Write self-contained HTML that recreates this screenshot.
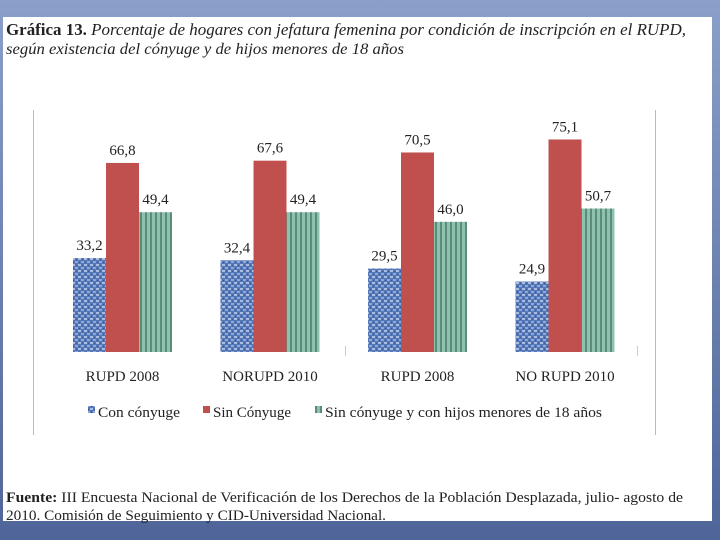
<!DOCTYPE html>
<html><head><meta charset="utf-8"><style>
html,body{margin:0;padding:0;width:720px;height:540px;overflow:hidden;background:#5a70a4;}
svg{display:block}
</style></head><body>
<svg width="720" height="540" xmlns="http://www.w3.org/2000/svg">
<defs>
<linearGradient id="bg" x1="0" y1="0" x2="0" y2="1"><stop offset="0" stop-color="#8a9fc9"/><stop offset="1" stop-color="#4f6599"/></linearGradient>
<pattern id="pBlue" width="6" height="6" patternUnits="userSpaceOnUse">
<rect width="6" height="6" fill="#5577b8"/><rect x="0" y="0" width="3" height="2" fill="#a9bde0"/><rect x="3" y="3" width="3" height="2" fill="#8ea8d6"/><rect x="1" y="4" width="1" height="1" fill="#2f4f90"/><rect x="4" y="1" width="1" height="1" fill="#2f4f90"/></pattern>
<pattern id="pGreen" width="5" height="5" patternUnits="userSpaceOnUse">
<rect width="5" height="5" fill="#8fc2ae"/><rect x="0" width="2" height="5" fill="#5b8c7a"/></pattern>
</defs>
<rect width="720" height="540" fill="url(#bg)"/>
<rect x="3" y="17" width="709" height="504" fill="#fff"/>
<text x="6" y="35" font-family="Liberation Serif, serif" font-size="17" fill="#222" textLength="680" lengthAdjust="spacingAndGlyphs"><tspan font-weight="bold">Gráfica 13.</tspan><tspan font-style="italic"> Porcentaje de hogares con jefatura femenina por condición de inscripción en el RUPD,</tspan></text>
<text x="6" y="54" font-family="Liberation Serif, serif" font-size="16" font-style="italic" fill="#222" textLength="398" lengthAdjust="spacingAndGlyphs">según existencia del cónyuge y de hijos menores de 18 años</text>
<line x1="33.5" y1="110" x2="33.5" y2="435" stroke="#bbb"/>
<line x1="655.5" y1="110" x2="655.5" y2="435" stroke="#bbb"/>
<line x1="345.5" y1="346" x2="345.5" y2="356" stroke="#ccc"/>
<line x1="637.5" y1="346" x2="637.5" y2="356" stroke="#ccc"/>
<g id="bars"></g>
<g font-family="Liberation Serif, serif" font-size="15" fill="#222">
<rect x="88" y="406" width="7" height="7" fill="url(#pBlue)"/>
<text x="98" y="417" textLength="82" lengthAdjust="spacingAndGlyphs">Con cónyuge</text>
<rect x="203" y="406" width="7" height="7" fill="#c0504d"/>
<text x="213" y="417" textLength="78" lengthAdjust="spacingAndGlyphs">Sin Cónyuge</text>
<rect x="315" y="406" width="7" height="7" fill="url(#pGreen)"/>
<text x="325" y="417" textLength="277" lengthAdjust="spacingAndGlyphs">Sin cónyuge y con hijos menores de 18 años</text>
</g>
<text x="6" y="502" font-family="Liberation Serif, serif" font-size="15" fill="#222" textLength="677" lengthAdjust="spacingAndGlyphs"><tspan font-weight="bold">Fuente:</tspan> III Encuesta Nacional de Verificación de los Derechos de la Población Desplazada, julio- agosto de</text>
<text x="6" y="520" font-family="Liberation Serif, serif" font-size="15" fill="#222" textLength="380" lengthAdjust="spacingAndGlyphs">2010. Comisión de Seguimiento y CID-Universidad Nacional.</text>
</svg>
<script>
const categories = ["RUPD 2008", "NORUPD 2010", "RUPD 2008", "NO RUPD 2010"];
const conConyuge = [33.2, 32.4, 29.5, 24.9];
const sinConyuge = [66.8, 67.6, 70.5, 75.1];
const sinConyugeHijos = [49.4, 49.4, 46.0, 50.7];
const seriesNames = ["con", "sin", "hijos"];
const fills = ["url(#pBlue)", "#c0504d", "url(#pGreen)"];
const NS = "http://www.w3.org/2000/svg";
const baseY = 352, pxPerUnit = 2.83, group0 = 73, groupStep = 147.5, barW = 33;
function y(v){ return baseY - v * pxPerUnit; }
function x(g, s){ return group0 + g * groupStep + s * barW; }
const g = document.getElementById('bars');
const all = [conConyuge, sinConyuge, sinConyugeHijos];
categories.forEach((c, i) => {
  all.forEach((arr, s) => {
    const v = arr[i];
    const r = document.createElementNS(NS, 'rect');
    r.setAttribute('x', x(i, s)); r.setAttribute('y', y(v));
    r.setAttribute('width', barW); r.setAttribute('height', baseY - y(v));
    r.setAttribute('fill', fills[s]);
    
    
    g.appendChild(r);
    const t = document.createElementNS(NS, 'text');
    t.setAttribute('x', x(i, s) + barW / 2); t.setAttribute('y', y(v) - 8);
    t.setAttribute('text-anchor', 'middle');
    t.setAttribute('font-family', 'Liberation Serif, serif'); t.setAttribute('font-size', '15');
    t.setAttribute('fill', '#222');
    t.textContent = v.toFixed(1).replace('.', ',');
    
    
    g.appendChild(t);
  });
  const l = document.createElementNS(NS, 'text');
  l.setAttribute('x', x(i, 1) + barW / 2); l.setAttribute('y', 381);
  l.setAttribute('text-anchor', 'middle');
  l.setAttribute('font-family', 'Liberation Serif, serif'); l.setAttribute('font-size', '15');
  l.setAttribute('fill', '#222');
  l.textContent = c;
  
  
  g.appendChild(l);
});
</script>
</body></html>
